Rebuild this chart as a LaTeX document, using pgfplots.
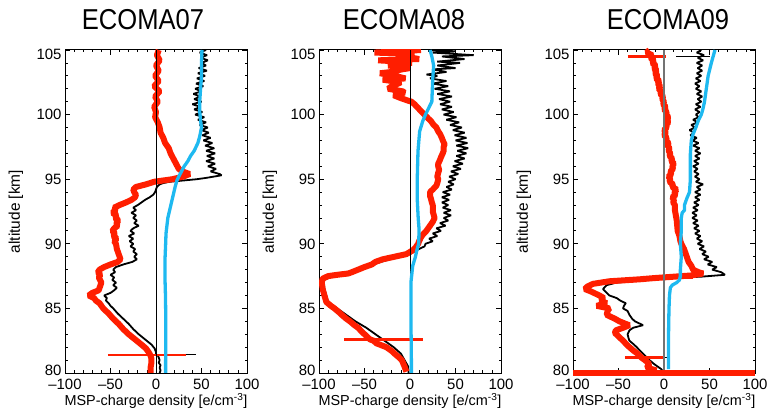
\documentclass[border=0pt]{standalone}
\usepackage{fontspec}
\setmainfont{Liberation Sans}
\usepackage{graphicx}
\usepackage{pgfplots}
\pgfplotsset{compat=1.18}
\definecolor{msred}{RGB}{255,30,0}
\definecolor{mscyan}{RGB}{30,185,240}
\definecolor{zgray}{RGB}{115,115,115}
\pgfplotsset{
  panel/.style={
    scale only axis, width=182bp, height=323bp,
    xmin=-100,xmax=100,ymin=80,ymax=105,
    xtick={-100,-50,0,50,100}, xticklabels={\textendash100,\textendash50,0,50,100},
    ytick={80,85,90,95,100,105},
    yticklabels={\smash{\raisebox{-2.2bp}{80}},\smash{\raisebox{-5.3bp}{85}},\smash{\raisebox{-5.3bp}{90}},\smash{\raisebox{-5.3bp}{95}},\smash{\raisebox{-5.3bp}{100}},\smash{\raisebox{-9.5bp}{105}}},
    minor x tick num=4, minor y tick num=4,
    tick align=inside, tick pos=both,
    major tick length=5bp, minor tick length=2.5bp,
    tick style={black, line width=0.8bp},
    axis line style={line width=1bp},
    tick label style={font=\fontsize{15}{18}\selectfont},
    xticklabel style={yshift=-3bp},
    /pgf/number format/assume math mode=true,
    xlabel={\fontsize{14.5}{17}\selectfont MSP-charge density [e/cm\textsuperscript{-3}]},
    ylabel={\fontsize{15.5}{18}\selectfont altitude [km]},
    xlabel style={at={(axis description cs:0.5,-0.1)}, anchor=base},
    ylabel style={at={(axis description cs:-0.27,0.5)}, anchor=center},
    title style={font=\fontsize{27}{30}\selectfont, at={(axis description cs:0.5,1)}, anchor=base, yshift=15bp},
  },
  blk/.style={black, line width=1.8bp, line join=bevel, no marks},
  rd/.style={msred, line width=6bp, line join=bevel, no marks},
  rds/.style={msred, line width=2.6bp, line join=round, no marks},
  cy/.style={mscyan, line width=3.3bp, line join=round, no marks},
  zl/.style={black, line width=0.8bp, no marks},
}
\begin{document}
\begin{tikzpicture}
\useasboundingbox (0,0) rectangle (768bp,416bp);
% ---------------- ECOMA07
\begin{axis}[panel, at={(65bp,43bp)}, anchor=south west,
  title={\scalebox{0.95}[1.07]{ECOMA07}}, title style={xshift=-13bp}]
\addplot[blk] table[x index=1,y index=0,row sep=\\]{
105.0 55\\ 104.8 48\\ 104.6 56\\ 104.4 49\\ 104.2 57\\ 104.0 50\\ 103.8 55\\ 103.6 47\\ 103.4 56\\ 103.2 46\\
103.0 54\\ 102.8 45\\ 102.6 53\\ 102.4 44\\ 102.2 52\\ 102.0 43\\ 101.8 50\\ 101.6 41\\ 101.4 49\\ 101.2 42\\
101.0 50\\ 100.8 40\\ 100.6 49\\ 100.4 42\\ 100.2 51\\ 100.0 43\\ 99.8 53\\ 99.6 46\\ 99.4 55\\ 99.2 48\\
99.0 57\\ 98.8 50\\ 98.6 58\\ 98.4 51\\ 98.2 60\\ 98.0 52\\ 97.8 62\\ 97.6 54\\ 97.4 64\\ 97.2 55\\
97.0 65\\ 96.8 56\\ 96.6 64\\ 96.4 55\\ 96.2 65\\ 96.0 57\\ 95.8 66\\ 95.6 60\\ 95.4 70\\ 95.3 72\\
95.1 55\\ 95.0 45\\ 94.9 30\\ 94.8 15\\ 94.7 8\\ 94.6 4\\ 94.4 1\\ 94.2 0\\ 94.0 -1\\ 93.8 -3\\
93.6 -7\\ 93.4 -12\\ 93.2 -16\\ 93.0 -20\\ 92.8 -25\\ 92.6 -22\\ 92.4 -27\\ 92.2 -22\\ 92.0 -25\\ 91.8 -21\\
91.6 -24\\ 91.4 -19\\ 91.2 -25\\ 91.0 -28\\ 90.8 -24\\ 90.6 -30\\ 90.4 -25\\ 90.2 -29\\ 90.0 -25\\ 89.8 -28\\
89.6 -23\\ 89.4 -25\\ 89.2 -21\\ 89.0 -24\\ 88.8 -21\\ 88.6 -26\\ 88.4 -36\\ 88.2 -44\\ 88.0 -47\\ 87.8 -45\\
87.6 -50\\ 87.4 -46\\ 87.2 -48\\ 87.0 -44\\ 86.8 -47\\ 86.6 -43\\ 86.4 -46\\ 86.2 -50\\ 86.0 -57\\ 85.8 -54\\
85.6 -55\\ 85.4 -52\\ 85.2 -50\\ 85.0 -47\\ 84.6 -42\\ 84.2 -36\\ 83.8 -30\\ 83.4 -25\\ 83.0 -19\\ 82.6 -12\\
82.2 -5\\ 81.9 -1.5\\ 81.6 0\\ 81.45 0\\ 81.35 2\\ 81.2 3\\ 81.0 4\\ 80.8 3\\ 80.6 5\\ 80.4 4\\ 80.2 5\\ 80.0 4\\
};
\addplot[black, line width=1.1bp] coordinates {(0,81.4) (44,81.4)};
\addplot[rd] table[x index=1,y index=0,row sep=\\]{
105.0 3\\ 104.6 1\\ 104.2 4\\ 103.8 0\\ 103.4 3\\ 103.0 -1\\ 102.6 3\\ 102.2 -2\\ 101.8 4\\ 101.4 -1\\
101.0 2\\ 100.6 -2\\ 100.2 0\\ 99.8 -1\\ 99.4 2\\ 99.0 4\\ 98.6 5\\ 98.2 8\\ 97.8 10\\ 97.4 14\\
97.0 16\\ 96.6 19\\ 96.2 22\\ 95.8 25\\ 95.6 29\\ 95.4 37\\ 95.2 30\\ 95.0 18\\ 94.9 8\\ 94.8 -2\\
94.6 -11\\ 94.4 -22\\ 94.2 -25\\ 94.0 -24\\ 93.8 -22\\ 93.6 -23\\ 93.4 -27\\ 93.2 -33\\ 93.0 -40\\ 92.8 -46\\
92.6 -44\\ 92.4 -48\\ 92.2 -43\\ 92.0 -45\\ 91.8 -41\\ 91.6 -44\\ 91.4 -42\\ 91.2 -46\\ 91.0 -48\\ 90.8 -45\\
90.6 -47\\ 90.4 -43\\ 90.2 -46\\ 90.0 -44\\ 89.6 -43\\ 89.2 -41\\ 88.8 -39\\ 88.6 -42\\ 88.4 -50\\ 88.2 -57\\
88.0 -62\\ 87.8 -64\\ 87.6 -61\\ 87.4 -63\\ 87.0 -60\\ 86.6 -62\\ 86.4 -63\\ 86.2 -70\\ 86.0 -74\\ 85.8 -68\\
85.6 -66\\ 85.4 -62\\ 85.0 -58\\ 84.6 -52\\ 84.2 -47\\ 83.8 -41\\ 83.4 -36\\ 83.0 -30\\ 82.6 -23\\ 82.2 -16\\
81.9 -11\\ 81.6 -8\\ 81.35 -6\\ 81.1 -5\\ 80.8 -5\\ 80.4 -6\\ 80.0 -6\\
};
\addplot[rds] coordinates {(-53,81.4) (33,81.4)};
\addplot[zl] coordinates {(0,80) (0,105)};
\addplot[cy] table[x index=1,y index=0,row sep=\\]{
105 50.5\\ 104 50\\ 103 50\\ 102 49\\ 101 48\\ 100.3 48\\ 99.5 49\\ 99 50\\ 98.3 48\\ 97.8 46\\
97.2 42\\ 96.8 38\\ 96.4 35\\ 96.0 31\\ 95.6 28\\ 95.2 25\\ 94.9 23\\ 94.4 21\\ 93.8 19\\ 93.2 17\\
92.6 15\\ 92.0 13\\ 91.4 12\\ 90.8 11\\ 90 10.6\\ 89 10\\ 88 9.8\\ 87 10\\ 86 10.4\\ 85 10.6\\
84 10.8\\ 83 10.8\\ 82 10.7\\ 81 10.6\\ 80 10.6\\
};
\end{axis}
% ---------------- ECOMA08
\begin{axis}[panel, at={(319bp,43bp)}, anchor=south west,
  title={\scalebox{0.95}[1.07]{ECOMA08}}, title style={xshift=-6bp}]
\addplot[blk] table[x index=1,y index=0,row sep=\\]{
105.0 20\\ 104.9 50\\ 104.8 25\\ 104.6 70\\ 104.5 35\\ 104.3 60\\ 104.1 30\\ 104.0 55\\ 103.8 30\\ 103.6 50\\
103.5 25\\ 103.3 40\\ 103.1 18\\ 103.0 30\\ 102.8 22\\ 102.6 40\\ 102.4 25\\ 102.2 42\\ 102.0 27\\ 101.8 44\\
101.6 30\\ 101.4 46\\ 101.2 32\\ 101.0 44\\ 100.8 33\\ 100.6 46\\ 100.4 35\\ 100.2 48\\ 100.0 37\\ 99.8 51\\
99.6 40\\ 99.4 54\\ 99.2 44\\ 99.0 57\\ 98.8 47\\ 98.6 60\\ 98.4 49\\ 98.2 62\\ 98.0 50\\ 97.8 63\\
97.6 51\\ 97.4 64\\ 97.2 52\\ 97.0 62\\ 96.8 51\\ 96.6 60\\ 96.4 49\\ 96.2 58\\ 96.0 47\\ 95.8 56\\
95.6 45\\ 95.4 53\\ 95.2 43\\ 95.0 50\\ 94.8 42\\ 94.6 48\\ 94.4 40\\ 94.2 46\\ 94.0 36\\ 93.8 44\\
93.6 35\\ 93.4 43\\ 93.2 35\\ 93.0 42\\ 92.8 36\\ 92.6 45\\ 92.4 37\\ 92.2 45\\ 92.0 37\\ 91.8 42\\
91.6 33\\ 91.4 39\\ 91.2 29\\ 91.0 34\\ 90.8 25\\ 90.6 30\\ 90.4 21\\ 90.2 25\\ 90.0 17\\ 89.8 16\\
89.6 10\\ 89.4 5\\ 89.2 0\\ 89.0 -13\\ 88.8 -22\\ 88.6 -32\\ 88.4 -40\\ 88.2 -46\\ 88.0 -55\\ 87.8 -61\\
87.6 -80\\ 87.2 -95\\ 86.5 -94\\ 86.0 -92\\ 85.5 -90\\ 85.0 -80\\ 84.5 -70\\ 84.0 -60\\ 83.5 -48\\ 83.0 -38\\
82.5 -28\\ 82.0 -18\\ 81.5 -10\\ 81.0 -6\\ 80.5 -2\\ 80.0 -1.5\\
};
\addplot[rd] table[x index=1,y index=0,row sep=\\]{
105.0 12\\ 104.9 -10\\ 104.8 -39\\ 104.7 5\\ 104.6 -15\\ 104.5 -6\\ 104.3 10\\ 104.2 -35\\ 104.1 -10\\ 104.0 2\\
103.9 -15\\ 103.8 -24\\ 103.6 0\\ 103.5 -9\\ 103.3 -20\\ 103.2 -33\\ 103.0 -17\\ 102.8 -5\\ 102.7 -30\\ 102.5 -10\\
102.4 -13\\ 102.2 -20\\ 102.0 -24\\ 101.8 -8\\ 101.7 -6\\ 101.5 -18\\ 101.3 -11\\ 101.1 -3\\ 101.0 1.5\\ 100.8 5\\
100.5 9\\ 100.2 13\\ 100.0 16\\ 99.7 20\\ 99.5 23\\ 99.2 26\\ 99.0 29\\ 98.7 31\\ 98.5 33\\ 98.2 35\\
98.0 36\\ 97.7 38\\ 97.5 37\\ 97.2 37\\ 97.0 36\\ 96.7 34\\ 96.5 33\\ 96.2 31\\ 96.0 31\\ 95.7 32\\
95.5 31\\ 95.2 30\\ 95.0 31\\ 94.7 30\\ 94.5 29\\ 94.2 25\\ 94.0 22\\ 93.7 22\\ 93.5 23\\ 93.2 24\\
93.0 25\\ 92.5 25\\ 92.0 27\\ 91.7 25\\ 91.5 23\\ 91.2 20\\ 91.0 18\\ 90.7 14\\ 90.5 12\\ 90.2 10\\
90.0 9\\ 89.7 6\\ 89.5 3\\ 89.2 -4\\ 89.0 -17\\ 88.8 -30\\ 88.6 -38\\ 88.4 -42\\ 88.2 -50\\ 88.0 -57\\
87.8 -64\\ 87.7 -68\\ 87.6 -80\\ 87.5 -90\\ 87.3 -96\\ 87.0 -97\\ 86.5 -96\\ 86.0 -94\\ 85.5 -92\\ 85.2 -87\\
85.0 -83\\ 84.7 -78\\ 84.5 -75\\ 84.2 -70\\ 84.0 -66\\ 83.7 -61\\ 83.5 -57\\ 83.2 -53\\ 83.0 -50\\ 82.8 -47\\
82.6 -44\\ 82.5 -40\\ 82.3 -37\\ 82.0 -26\\ 81.7 -20\\ 81.5 -17\\ 81.2 -12\\ 81.0 -9\\ 80.5 -6\\ 80.1 -4\\
};
\addplot[rds] coordinates {(-72,82.6) (14,82.6)};
\addplot[zl] coordinates {(0,80) (0,105)};
\addplot[cy] table[x index=1,y index=0,row sep=\\]{
105 22\\ 104.5 24\\ 103.8 26\\ 102.8 25\\ 101.0 24\\ 100.5 20.5\\ 100.0 17\\ 99.5 14\\ 98.7 10.6\\ 97.2 8.8\\
95.1 8\\ 93.4 8\\ 92.0 9\\ 91.1 10\\ 90.0 9.5\\ 89.5 7.5\\ 89.0 6\\ 88.3 3\\ 87.0 1\\ 85 1\\
83 1.2\\ 81 1.5\\ 80 1.5\\
};
\end{axis}
% ---------------- ECOMA09
\begin{axis}[panel, at={(573bp,43bp)}, anchor=south west, clip=false,
  title={\scalebox{0.95}[1.07]{ECOMA09}}, title style={xshift=4bp}]
\addplot[blk] table[x index=1,y index=0,row sep=\\]{
105.0 41\\ 104.8 36\\ 104.6 44\\ 104.4 37\\ 104.2 43\\ 104.0 36\\ 103.8 42\\ 103.6 37\\ 103.4 42\\ 103.2 36\\
103.0 41\\ 102.8 35\\ 102.6 40\\ 102.4 34\\ 102.2 39\\ 102.0 35\\ 101.8 41\\ 101.6 36\\ 101.4 42\\ 101.2 37\\
101.0 41\\ 100.8 35\\ 100.6 40\\ 100.4 34\\ 100.2 39\\ 100.0 35\\ 99.8 38\\ 99.6 32\\ 99.4 37\\ 99.2 30\\
99.0 34\\ 98.8 28\\ 98.6 33\\ 98.4 29\\ 98.2 36\\ 98.0 31\\ 97.8 38\\ 97.6 32\\ 97.4 39\\ 97.2 34\\
97.0 40\\ 96.8 34\\ 96.6 39\\ 96.4 33\\ 96.2 38\\ 96.0 32\\ 95.8 37\\ 95.6 33\\ 95.4 38\\ 95.2 34\\
95.0 39\\ 94.8 35\\ 94.6 43\\ 94.4 36\\ 94.2 40\\ 94.0 34\\ 93.8 40\\ 93.6 34\\ 93.4 39\\ 93.2 33\\
93.0 38\\ 92.8 32\\ 92.6 37\\ 92.4 31\\ 92.2 36\\ 92.0 31\\ 91.8 37\\ 91.6 32\\ 91.4 38\\ 91.2 33\\
91.0 39\\ 90.8 34\\ 90.6 40\\ 90.4 36\\ 90.2 42\\ 90.0 37\\ 89.8 44\\ 89.6 39\\ 89.4 46\\ 89.2 42\\
89.0 49\\ 88.8 44\\ 88.6 53\\ 88.4 48\\ 88.2 58\\ 88.0 53\\ 87.8 63\\ 87.6 67\\ 87.45 40\\ 87.4 20\\
87.3 -8\\ 87.2 -25\\ 87.1 -34\\ 87.0 -52\\ 86.8 -63\\ 86.5 -67\\ 86.2 -63\\ 86.0 -60\\ 85.8 -52\\ 85.6 -48\\
85.4 -42\\ 85.2 -44\\ 85.0 -45\\ 84.8 -40\\ 84.5 -38\\ 84.2 -35\\ 84.0 -32\\ 83.8 -26\\ 83.7 -23\\ 83.5 -34\\
83.3 -38\\ 83.0 -40\\ 82.7 -39\\ 82.5 -38\\ 82.2 -33\\ 82.0 -30\\ 81.7 -26\\ 81.5 -23\\ 81.2 -19\\ 81.0 -16\\
80.7 -11\\ 80.5 -7\\ 80.3 -3\\ 80.1 -1\\
};
\addplot[black, line width=1.1bp] coordinates {(13.5,104.5) (50,104.5)};
\addplot[black, line width=1.1bp] coordinates {(20,87.4) (34,87.4)};
\addplot[black, line width=1.1bp] coordinates {(-43,81.2) (3,81.2)};
\addplot[rd] table[x index=1,y index=0,row sep=\\]{
105.0 -16\\ 104.8 -19\\ 104.6 -13\\ 104.4 -15\\ 104.2 -11\\ 104.0 -13\\ 103.8 -9\\ 103.6 -11\\ 103.4 -8\\ 103.2 -10\\
103.0 -7\\ 102.8 -9\\ 102.6 -5\\ 102.4 -7\\ 102.2 -4\\ 102.0 -6\\ 101.8 -3\\ 101.6 -4\\ 101.4 -1\\ 101.2 -2\\
101.0 0\\ 100.8 -1\\ 100.6 2\\ 100.4 0\\ 100.2 3\\ 100.0 2\\ 99.8 5\\ 99.6 3\\ 99.4 5\\ 99.2 2\\
99.0 3\\ 98.8 0\\ 98.6 2\\ 98.4 0\\ 98.2 3\\ 98.0 2\\ 97.8 5\\ 97.6 4\\ 97.4 6\\ 97.2 5\\
97.0 7\\ 96.8 6\\ 96.6 9\\ 96.4 8\\ 96.2 11\\ 96.0 9\\ 95.8 10\\ 95.6 7\\ 95.4 8\\ 95.2 5\\
95.0 7\\ 94.8 6\\ 94.6 10\\ 94.4 9\\ 94.2 14\\ 94.0 11\\ 93.8 13\\ 93.6 9\\ 93.4 11\\ 93.2 10\\
93.0 12\\ 92.6 12\\ 92.2 13\\ 91.8 14\\ 91.4 14.5\\ 91.0 15\\ 90.6 17\\ 90.2 18\\ 90.0 19\\ 89.6 22\\
89.2 24\\ 89.0 25\\ 88.6 27\\ 88.3 30\\ 88.0 32\\ 87.8 38\\ 87.7 43\\ 87.55 30\\ 87.45 10\\ 87.35 -10\\
87.25 -27\\ 87.1 -60\\ 86.9 -78\\ 86.7 -84\\ 86.5 -87\\ 86.3 -80\\ 86.1 -74\\ 86.0 -71\\ 85.8 -66\\ 85.6 -70\\
85.4 -63\\ 85.2 -74\\ 85.0 -60\\ 84.8 -62\\ 84.5 -63\\ 84.2 -54\\ 84.0 -49\\ 83.8 -42\\ 83.7 -38\\ 83.5 -45\\
83.3 -53\\ 83.1 -54\\ 82.9 -51\\ 82.5 -45\\ 82.2 -41\\ 82.0 -38\\ 81.7 -33\\ 81.5 -29\\ 81.2 -25\\ 81.0 -21\\
80.7 -16\\ 80.4 -19\\ 80.2 -8\\
};
\addplot[rds] coordinates {(-40,104.5) (2.5,104.5)};
\addplot[rds] coordinates {(2.5,87.4) (32,87.4)};
\addplot[rds] coordinates {(-43,81.2) (0,81.2)};
\addplot[msred, line width=5.5bp] coordinates {(-100,80) (100,80)};
\addplot[zgray, line width=1.8bp] coordinates {(0,80.2) (0,105)};
\addplot[cy] table[x index=1,y index=0,row sep=\\]{
105 56\\ 104 52\\ 103 48.5\\ 102 46.5\\ 101 44.5\\ 100.5 43\\ 100 41\\ 99.5 37.5\\ 99 35\\ 98.5 32\\
98 30\\ 97 29\\ 96 29\\ 95 29\\ 94 28\\ 93.5 25\\ 93 22.5\\ 92.6 22.5\\ 92.4 20\\ 92 19\\
91 19\\ 90 18\\ 89 19\\ 88 18\\ 87.5 18\\ 87.2 17\\ 87 14\\ 86.8 9\\ 86.6 7\\ 86 6\\
85 5.5\\ 84 5.2\\ 83 5\\ 82 5\\ 81 5\\ 80.3 5\\
};
\end{axis}
\end{tikzpicture}
\end{document}
